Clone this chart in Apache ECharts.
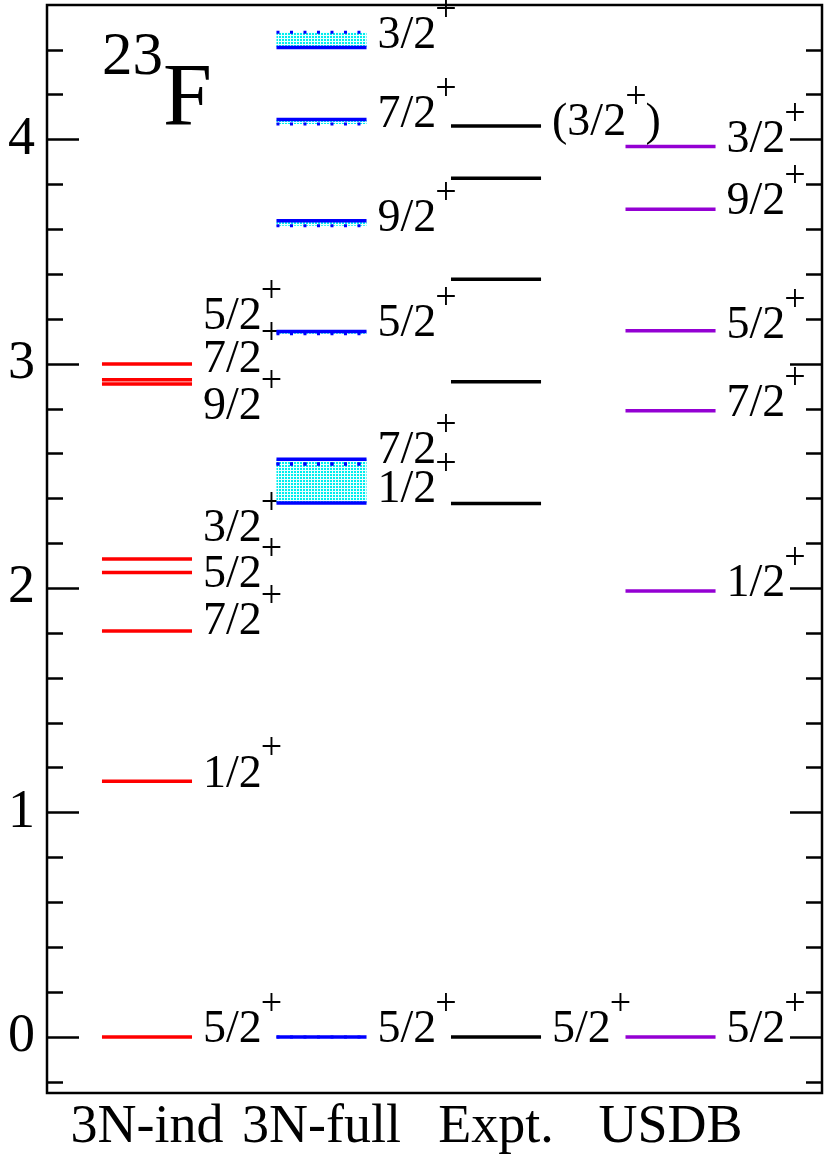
<!DOCTYPE html>
<html>
<head>
<meta charset="utf-8">
<script src="https://cdn.jsdelivr.net/npm/echarts@6/dist/echarts.min.js"></script>
<style>
  html, body { margin: 0; padding: 0; background: #fff; }
  #chart { width: 830px; height: 1161px; }
</style>
</head>
<body>
<div id="chart"></div>
<script>
// column names (x axis)
var columns = ['3N-ind', '3N-full', 'Expt.', 'USDB'];
var yTicks = [0, 1, 2, 3, 4];
var yMinorTicks = [-0.2, 0.2, 0.4, 0.6, 0.8, 1.2, 1.4, 1.6, 1.8, 2.2, 2.4, 2.6, 2.8,
                   3.2, 3.4, 3.6, 3.8, 4.2, 4.4];

// 3N-ind
var indE = [0, 1.14, 1.81, 2.07, 2.13, 2.91, 2.93, 3.00];
var indJ = ['5/2', '1/2', '7/2', '5/2', '3/2', '9/2', '7/2', '5/2'];
var indLabelE = [0.03, 1.17, 1.85, 2.06, 2.265, 2.81, 3.02, 3.21];

// 3N-full (solid = one calc, dotted = other, shaded between)
var fullE = [0, 2.38, 2.575, 3.145, 3.638, 4.09, 4.41];
var fullDotE = [0, 2.555, 2.553, 3.135, 3.616, 4.07, 4.478];
var fullJ = ['5/2', '1/2', '7/2', '5/2', '9/2', '7/2', '3/2'];
var fullLabelE = [0.03, 2.44, 2.61, 3.18, 3.647, 4.11, 4.46];

// Expt.
var expE = [0, 2.378, 2.92, 3.378, 3.828, 4.061];
var expJ = ['5/2', '', '', '', '', '(3/2)'];
var expLabelE = [0.03, null, null, null, null, 4.075];

// USDB
var usdE = [0, 1.988, 2.791, 3.148, 3.69, 3.969];
var usdJ = ['5/2', '1/2', '7/2', '5/2', '9/2', '3/2'];
var usdLabelE = [0.03, 2.02, 2.82, 3.17, 3.72, 4.00];

var SERIF = '"Liberation Serif", "DejaVu Serif", serif';
var HALF = 0.258; // half width of a level line, x units
var FS = 46, SUP = 38;

// measure text widths for placing the superscript
var mctx = document.createElement('canvas').getContext('2d');
function textW(t, fs) {
    mctx.font = fs + 'px ' + SERIF;
    return mctx.measureText(t).width;
}

// dotted cyan fill
var pat = document.createElement('canvas');
pat.width = 3; pat.height = 3;
var pc = pat.getContext('2d');
pc.fillStyle = '#ecffff'; pc.fillRect(0, 0, 3, 3);
pc.fillStyle = '#00eeee'; pc.fillRect(0, 0, 2, 2);

function txt(s, x, y, fs) {
    return { type: 'text', x: x, y: y,
             style: { text: s, fontSize: fs, fontFamily: SERIF, fill: '#000', align: 'left', verticalAlign: 'middle' } };
}

// "5/2" + superscript "+", optional closing paren
function spinLabel(j, x, y) {
    var paren = j.charAt(0) === '(';
    var base = paren ? j.slice(0, -1) : j;
    var w = textW(base, FS);
    var out = [txt(base, x, y, FS), txt('+', x + w - 1, y - 25, SUP)];
    if (paren) out.push(txt(')', x + w + textW('+', SUP) - 2, y, FS));
    return out;
}

function levelRender(col, energies, labelE, spins, color, width, dash) {
    return function (params, api) {
        var i = params.dataIndex;
        var e = energies[i];
        var p0 = api.coord([col - HALF, e]);
        var p1 = api.coord([col + HALF, e]);
        var kids = [{
            type: 'line',
            shape: { x1: p0[0], y1: p0[1], x2: p1[0], y2: p1[1] },
            style: { stroke: color, lineWidth: width, lineDash: dash || null, lineCap: 'butt' }
        }];
        if (labelE && labelE[i] != null && spins[i]) {
            kids = kids.concat(spinLabel(spins[i], p1[0] + 11, api.coord([col, labelE[i]])[1]));
        }
        return { type: 'group', children: kids };
    };
}

function bandRender(params, api) {
    var i = params.dataIndex;
    var a = api.coord([1 - HALF, fullE[i]]);
    var b = api.coord([1 + HALF, fullDotE[i]]);
    return {
        type: 'rect',
        shape: { x: a[0], y: Math.min(a[1], b[1]), width: b[0] - a[0], height: Math.abs(a[1] - b[1]) },
        style: { fill: { image: pat, repeat: 'repeat' } }
    };
}

function idx(arr) { return arr.map(function (v, i) { return [i, v]; }); }

function yAx(pos, len, vals, showLabel) {
    return {
        type: 'value', position: pos, min: -0.25, max: 4.6,
        axisLine: { show: false, onZero: false },
        splitLine: { show: false },
        axisTick: { show: true, inside: true, length: len, customValues: vals,
                    lineStyle: { color: '#000', width: 2.5 } },
        axisLabel: showLabel ? { show: true, customValues: yTicks, margin: 12,
                    fontSize: 54, fontFamily: SERIF, color: '#000' } : { show: false }
    };
}

var chart = echarts.init(document.getElementById('chart'), null, { renderer: 'canvas' });
chart.setOption({
    animation: false,
    backgroundColor: '#fff',
    grid: { left: 47, right: 8, top: 5, bottom: 68, show: true, borderColor: '#000', borderWidth: 2.5,
            outerBoundsMode: 'none' },
    xAxis: {
        type: 'value', min: -0.573, max: 3.868,
        axisLine: { show: false, onZero: false }, splitLine: { show: false }, axisTick: { show: false },
        axisLabel: { customValues: [0, 1, 2, 3], margin: 8, fontSize: 54, fontFamily: SERIF, color: '#000',
                     formatter: function (v) { return columns[Math.round(v)]; } }
    },
    yAxis: [
        yAx('left', 32, yTicks, true),
        yAx('left', 16, yMinorTicks, false),
        yAx('right', 32, yTicks, false),
        yAx('right', 16, yMinorTicks, false)
    ],
    graphic: [
        { type: 'text', left: 102, top: 27, style: { text: '23', font: '61px ' + SERIF, fill: '#000' } },
        { type: 'text', left: 163, top: 57, style: { text: 'F', font: '88px ' + SERIF, fill: '#000' } }
    ],
    series: [
        { type: 'custom', clip: false, data: idx(indE),
          renderItem: levelRender(0, indE, indLabelE, indJ, '#ff0000', 3.5) },
        { type: 'custom', clip: false, data: idx(fullE), renderItem: bandRender },
        { type: 'custom', clip: false, data: idx(fullDotE),
          renderItem: levelRender(1, fullDotE, null, fullJ, '#0000ff', 3, [3, 10.5]) },
        { type: 'custom', clip: false, data: idx(fullE),
          renderItem: levelRender(1, fullE, fullLabelE, fullJ, '#0000ff', 3.5) },
        { type: 'custom', clip: false, data: idx(expE),
          renderItem: levelRender(2, expE, expLabelE, expJ, '#000000', 3.5) },
        { type: 'custom', clip: false, data: idx(usdE),
          renderItem: levelRender(3, usdE, usdLabelE, usdJ, '#9400d3', 3.5) }
    ]
});
</script>
</body>
</html>
